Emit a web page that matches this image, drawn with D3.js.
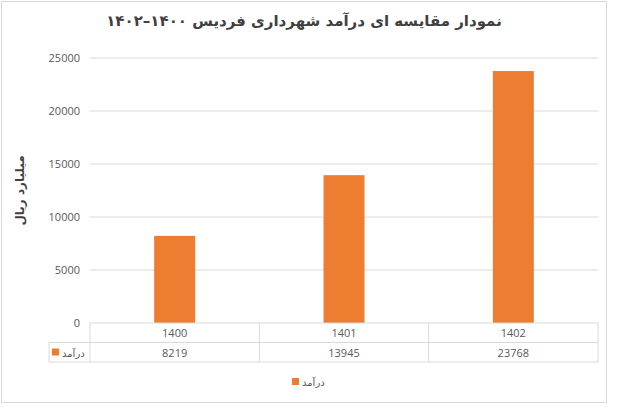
<!DOCTYPE html><html><head><meta charset="utf-8"><script src="https://d3js.org/d3.v7.min.js"></script>
<style>body{margin:0;background:#fff}</style></head><body><svg id="c" width="635" height="413"></svg>
<script>
const categories=["1400","1401","1402"];
const values=[8219,13945,23768];
const seriesName="درآمد";
const yTicks=[0,5000,10000,15000,20000,25000];
const title="نمودار مقایسه ای درآمد شهرداری فردیس ۱۴۰۰–۱۴۰۲";
const yLabel="میلیارد ریال";
const svg=d3.select("#c");
const font="'Open Sans','DejaVu Sans',sans-serif";
const orange="#ED7D31";
svg.append("rect").attr("x",1.5).attr("y",1.5).attr("width",605).attr("height",401).attr("fill","#fff").attr("stroke","#d9d9d9");
const L=90,R=598,T=58,B=323;
const x=d3.scaleBand().domain(categories).range([L,R]);
const y=d3.scaleLinear().domain([0,25000]).range([B,T]);
svg.append("g").selectAll("line").data(yTicks.slice(1)).join("line").attr("x1",L).attr("x2",R).attr("y1",d=>y(d)).attr("y2",d=>y(d)).attr("stroke","#d9d9d9");
svg.append("g").selectAll("text").data(yTicks).join("text").attr("x",L-10).attr("y",d=>y(d)+4).attr("text-anchor","end").attr("font-family",font).attr("font-size",11).attr("fill","#595959").text(d=>d);
const bw=41;
svg.append("g").selectAll("rect").data(values).join("rect").attr("x",(d,i)=>x(categories[i])+x.bandwidth()/2-bw/2).attr("y",d=>y(d)).attr("width",bw).attr("height",d=>B-y(d)).attr("fill",orange);
// table
const r1=B,r2=B+19.5,r3=B+39;
const tg=svg.append("g").attr("stroke","#d9d9d9").attr("fill","none");
tg.append("line").attr("x1",L).attr("x2",R).attr("y1",r1).attr("y2",r1);
tg.append("line").attr("x1",49).attr("x2",R).attr("y1",r2).attr("y2",r2);
tg.append("line").attr("x1",49).attr("x2",R).attr("y1",r3).attr("y2",r3);
tg.append("line").attr("x1",49).attr("x2",49).attr("y1",r2).attr("y2",r3);
[L,...categories.map(c=>x(c)+x.bandwidth())].forEach(v=>tg.append("line").attr("x1",v).attr("x2",v).attr("y1",r1).attr("y2",r3));
svg.append("g").selectAll("text").data(categories).join("text").attr("x",d=>x(d)+x.bandwidth()/2).attr("y",r1+14).attr("text-anchor","middle").attr("font-family",font).attr("font-size",11).attr("fill","#595959").text(d=>d);
svg.append("g").selectAll("text").data(values).join("text").attr("x",(d,i)=>x(categories[i])+x.bandwidth()/2).attr("y",r2+14).attr("text-anchor","middle").attr("font-family",font).attr("font-size",11).attr("fill","#595959").text(d=>d);
svg.append("rect").attr("x",52).attr("y",r2+6).attr("width",7).attr("height",7).attr("fill",orange);
svg.append("text").attr("x",62).attr("y",r2+14).attr("font-family",font).attr("font-size",10).attr("fill","#595959").text(seriesName);
// legend
svg.append("rect").attr("x",292).attr("y",378).attr("width",7).attr("height",7).attr("fill",orange);
svg.append("text").attr("x",302).attr("y",386).attr("font-family",font).attr("font-size",10).attr("fill","#595959").text(seriesName);
svg.append("text").attr("x",304).attr("y",26).attr("text-anchor","middle").attr("font-family","'DejaVu Sans',sans-serif").attr("font-weight","bold").attr("font-size",15).attr("fill","#404040").attr("direction","rtl").text(title);
svg.append("text").attr("transform",`translate(24,${(T+B)/2}) rotate(-90)`).attr("text-anchor","middle").attr("font-family","'DejaVu Sans',sans-serif").attr("font-weight","bold").attr("font-size",12).attr("fill","#404040").text(yLabel);
</script></body></html>
